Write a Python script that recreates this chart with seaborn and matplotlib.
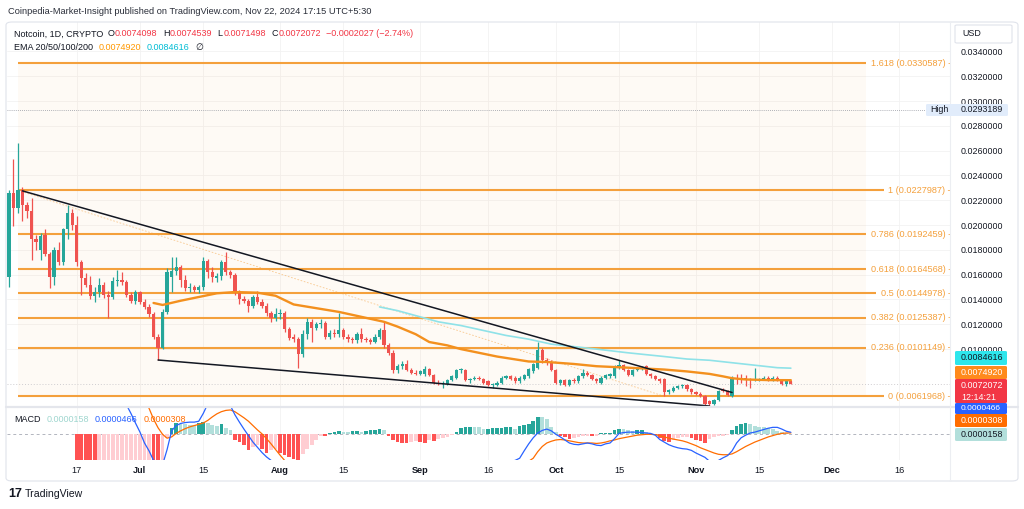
import numpy as np
import pandas as pd
import matplotlib
matplotlib.use("Agg")
import matplotlib.pyplot as plt
import seaborn as sns
from matplotlib.patches import FancyBboxPatch
from matplotlib.lines import Line2D

# ---------------- data (daily candles from 2024-06-02) ----------------
start_date = pd.Timestamp("2024-06-02")
opens = [0.0158,0.0226,0.0214,0.0228,0.0216,0.0211,0.0189,0.0180,0.0192,0.0177,
         0.0158,0.0180,0.0170,0.0197,0.0210,0.0200,0.0170,0.0157,0.0152,0.0143,
         0.0146,0.0152,0.0144,0.0142,0.0155,0.0156,0.0154,0.0144,0.0139,0.0146,
         0.0138,0.0134,0.0128,0.0110,0.0101,0.0130,0.0158,0.0163,0.0166,0.0156,
         0.0149,0.0150,0.0148,0.0150,0.0171,0.0162,0.0157,0.0159,0.0170,0.0162,
         0.0160,0.0146,0.0140,0.0139,0.0135,0.0142,0.0138,0.0135,0.0129,0.0125,
         0.0128,0.0129,0.0116,0.0110,0.0108,0.0096,0.0112,0.0122,0.0117,0.0120,
         0.0121,0.0110,0.0113,0.0112,0.0115,0.0110,0.0108,0.0107,0.0112,0.0108,
         0.0107,0.0106,0.0110,0.0115,0.0103,0.0097,0.0083,0.0086,0.0088,0.0083,
         0.0081,0.0080,0.0080,0.0084,0.0079,0.0073,0.0072,0.0072,0.0075,0.0077,
         0.0083,0.0083,0.0075,0.0076,0.0077,0.0076,0.0074,0.0071,0.0071,0.0073,
         0.0077,0.0078,0.0077,0.0074,0.0076,0.0078,0.0082,0.0085,0.0099,0.0091,
         0.0089,0.0083,0.0073,0.0075,0.0071,0.0075,0.0074,0.0078,0.0081,0.0079,
         0.0076,0.0073,0.0077,0.0078,0.0078,0.0085,0.0087,0.0083,0.0079,0.0083,
         0.0084,0.0086,0.0080,0.0078,0.0076,0.0076,0.0065,0.0066,0.0069,0.0070,
         0.0071,0.0068,0.0065,0.0064,0.0062,0.0058,0.0056,0.0059,0.0067,0.0066,
         0.0062,0.0077,0.0077,0.0077,0.0076,0.0075,0.0075,0.0076,0.0077,0.0075,
         0.0077,0.0075,0.0072,0.0074098]
highs = [0.0228,0.0253,0.0266,0.0231,0.0219,0.0222,0.0192,0.0194,0.0197,0.0178,
         0.0182,0.0186,0.0198,0.0216,0.0213,0.0207,0.0172,0.0161,0.0159,0.0150,
         0.0157,0.0154,0.0147,0.0158,0.0164,0.0162,0.0156,0.0146,0.0148,0.0147,
         0.0140,0.0136,0.0130,0.0112,0.0132,0.0165,0.0174,0.0174,0.0168,0.0160,
         0.0153,0.0152,0.0152,0.0174,0.0173,0.0166,0.0161,0.0172,0.0178,0.0164,
         0.0161,0.0148,0.0143,0.0140,0.0144,0.0147,0.0140,0.0137,0.0131,0.0133,
         0.0132,0.0131,0.0118,0.0112,0.0110,0.0115,0.0125,0.0124,0.0122,0.0124,
         0.0123,0.0115,0.0116,0.0129,0.0117,0.0112,0.0110,0.0114,0.0117,0.0110,
         0.0109,0.0112,0.0117,0.0122,0.0105,0.0099,0.0088,0.0090,0.0091,0.0085,
         0.0083,0.0083,0.0086,0.0085,0.0080,0.0075,0.0074,0.0076,0.0079,0.0084,
         0.0085,0.0084,0.0077,0.0078,0.0078,0.0077,0.0075,0.0073,0.0074,0.0078,
         0.0079,0.0079,0.0078,0.0078,0.0080,0.0085,0.0089,0.0106,0.0101,0.0093,
         0.0091,0.0084,0.0076,0.0076,0.0076,0.0077,0.0079,0.0084,0.0082,0.0080,
         0.0077,0.0078,0.0080,0.0081,0.0087,0.0091,0.0088,0.0084,0.0084,0.0085,
         0.0086,0.0087,0.0081,0.0079,0.0077,0.0077,0.0068,0.0070,0.0071,0.0072,
         0.0072,0.0069,0.0066,0.0065,0.0063,0.0059,0.0060,0.0067,0.0069,0.0067,
         0.0078,0.0080,0.0080,0.0079,0.0077,0.0085,0.0077,0.0078,0.0078,0.0078,
         0.0078,0.0076,0.0075,0.0074539]
lows = [0.0150,0.0199,0.0210,0.0203,0.0206,0.0172,0.0180,0.0172,0.0175,0.0149,
        0.0152,0.0168,0.0168,0.0189,0.0196,0.0167,0.0144,0.0150,0.0140,0.0138,
        0.0142,0.0141,0.0125,0.0140,0.0151,0.0152,0.0142,0.0137,0.0136,0.0136,
        0.0132,0.0126,0.0108,0.0091,0.0100,0.0128,0.0146,0.0160,0.0150,0.0147,
        0.0146,0.0146,0.0145,0.0148,0.0157,0.0154,0.0154,0.0156,0.0160,0.0157,
        0.0144,0.0136,0.0137,0.0130,0.0133,0.0136,0.0133,0.0127,0.0122,0.0123,
        0.0124,0.0114,0.0107,0.0106,0.0085,0.0094,0.0108,0.0106,0.0115,0.0117,
        0.0108,0.0108,0.0110,0.0110,0.0108,0.0106,0.0105,0.0105,0.0106,0.0106,
        0.0104,0.0105,0.0108,0.0101,0.0095,0.0081,0.0081,0.0084,0.0082,0.0080,
        0.0079,0.0079,0.0078,0.0078,0.0072,0.0071,0.0069,0.0071,0.0074,0.0076,
        0.0081,0.0074,0.0073,0.0075,0.0075,0.0072,0.0070,0.0069,0.0070,0.0072,
        0.0076,0.0075,0.0073,0.0073,0.0075,0.0077,0.0081,0.0084,0.0089,0.0087,
        0.0082,0.0072,0.0071,0.0070,0.0070,0.0073,0.0073,0.0077,0.0078,0.0075,
        0.0073,0.0072,0.0076,0.0077,0.0077,0.0084,0.0082,0.0078,0.0078,0.0082,
        0.0083,0.0079,0.0077,0.0075,0.0073,0.0062,0.0064,0.0065,0.0068,0.0069,
        0.0066,0.0064,0.0063,0.0061,0.0055,0.0054,0.0055,0.0058,0.0065,0.0062,
        0.0061,0.0072,0.0073,0.0070,0.0069,0.0074,0.0074,0.0075,0.0074,0.0074,
        0.0074,0.0071,0.0070,0.0071498]
closes = [0.0226,0.0214,0.0228,0.0216,0.0211,0.0189,0.0186,0.0191,0.0177,0.0158,
          0.0180,0.0170,0.0197,0.0210,0.0200,0.0170,0.0157,0.0152,0.0143,0.0146,
          0.0152,0.0144,0.0142,0.0155,0.0156,0.0154,0.0144,0.0139,0.0146,0.0138,
          0.0134,0.0128,0.0110,0.0101,0.0130,0.0162,0.0163,0.0166,0.0156,0.0149,
          0.0150,0.0148,0.0150,0.0171,0.0162,0.0158,0.0159,0.0170,0.0162,0.0160,
          0.0146,0.0140,0.0139,0.0135,0.0142,0.0138,0.0135,0.0129,0.0125,0.0128,
          0.0129,0.0116,0.0109,0.0108,0.0096,0.0112,0.0122,0.0117,0.0120,0.0121,
          0.0110,0.0113,0.0112,0.0115,0.0110,0.0108,0.0107,0.0112,0.0108,0.0107,
          0.0106,0.0110,0.0115,0.0103,0.0097,0.0083,0.0086,0.0088,0.0083,0.0081,
          0.0080,0.0082,0.0084,0.0079,0.0073,0.0072,0.0073,0.0075,0.0078,0.0083,
          0.0084,0.0075,0.0076,0.0077,0.0076,0.0073,0.0071,0.0072,0.0073,0.0077,
          0.0078,0.0076,0.0074,0.0077,0.0079,0.0084,0.0088,0.0099,0.0091,0.0089,
          0.0083,0.0073,0.0075,0.0071,0.0075,0.0074,0.0078,0.0081,0.0079,0.0076,
          0.0074,0.0077,0.0079,0.0080,0.0085,0.0087,0.0083,0.0079,0.0083,0.0084,
          0.0085,0.0080,0.0078,0.0076,0.0074,0.0065,0.0067,0.0069,0.0070,0.0071,
          0.0068,0.0065,0.0064,0.0062,0.0056,0.0056,0.0059,0.0066,0.0066,0.0063,
          0.0077,0.0076,0.0075,0.0076,0.0075,0.0076,0.0076,0.0077,0.0075,0.0077,
          0.0075,0.0072,0.0074,0.0072072]

# EMA 50 (orange) and EMA 100 (cyan)
ema50_day = [32,34,38,42,46,50,55,59,63,68,73,78,83,86,90,93,97,100,104,108,
             115,119,125,130,137,145,150,155,158,160,163,168,173]
ema50_val = [0.01372,0.01356,0.0139,0.0142,0.0145,0.0146,0.01455,0.0143,0.0136,0.0133,
             0.0130,0.0126,0.0122,0.01181,0.0112,0.01057,0.0103,0.0100,0.0097,0.0094,
             0.0090,0.00896,0.0088,0.00862,0.0085,0.00835,0.0082,0.0080,0.0078,0.00765,
             0.00755,0.0075,0.007492]
ema100_day = [82,86,90,95,100,105,110,115,120,125,130,137,145,150,155,160,165,170,173]
ema100_val = [0.0134,0.0131,0.0127,0.0122,0.0119,0.0115,0.0111,0.0108,0.0104,0.0102,
              0.0100,0.0097,0.0094,0.0092,0.0091,0.0089,0.0087,0.0085,0.0084616]

# Fibonacci retracement
fib_ratio = ["1.618", "1", "0.786", "0.618", "0.5", "0.382", "0.236", "0"]
fib_price = [0.0330587, 0.0227987, 0.0192459, 0.0164568, 0.0144978, 0.0125387, 0.0101149, 0.0061968]
fib_anchor_day = [2, 145]

# trend lines (day, price)
upper_line_day = [3, 160]
upper_line_price = [0.02276, 0.00650]
lower_line_day = [33, 155]
lower_line_price = [0.00912, 0.00541]

high_price = 0.0293189
last_close = 0.0072072

# MACD (values in units of 1e-5)
hist_day = list(range(15, 174))
macd_hist = [-75,-90,-102,-112,-118,
             -116,-113,-110,-106,-102,-98,-94,-90,-86,-82,-78,-74,
             -80,-88,-70,-8,
             14,25,24,23,22,21,26,29,26,22,20,23,15,9,
             -14,-18,-25,-35,-29,-25,-33,-43,-37,-33,-44,-48,-52,-56,-62,-46,-34,-25,-14,-4,-5,
             4,5,8,6,5,7,8,6,7,9,10,13,9,
             -4,-12,-18,-20,-21,-18,-15,-17,-20,-14,-16,-10,-8,-6,-2,
             5,15,17,17.5,17,16,12,12,14,15,15.5,16,16.5,13,18.4,21,23,30.7,40,39,36,17,5,
             -4.6,-6,-10,-8,-6,-3,-3,-4,-4,
             2,3,3.5,9,13,12,10,7,9,10,5,1,
             -2,-8,-15,-17,-12,-9,-7,-6,-9,-13,-16,-20,-11,-6,-4,-3,-1,
             9,18,24,25,23,20,17,16,14,12,8,5,3,1.58]
macd_day = [15,20,24,26,27,28,29,30,31,32,33,34,35,36,37,38,39,40,41,42,43,44,45,46,47,48,49,
            50,51,52,53,54,55,56,57,58,59,60,62,65,70,80,90,100,110] + list(range(112, 174))
macd_line = [180,140,100,68,48,26,5,-20,-38,-60,-85,-70,-35,8,20,25,27,28,28,30,48,70,85,90,88,78,66,
             45,28,12,-3,-18,-30,-42,-52,-60,-75,-90,-110,-140,-140,-120,-105,-85,-65,
             -60,-55,-38,-22,-8,3,9,12,8,0,-6,-13,-20,-23,-24,-22,-20,-22,-25,-26,-22,-20,-10,2,
             4,5,5,5,4,3,2,-2,-12,-18,-24,-28,-31,-33,-34,-37,-43,-48,-53,-62,-66,-60,-54,-49,
             -38,-20,-8,-2,3,5,8,11,14,16,16,12,7,4.66]
signal_day = [15,20,25,29,30] + list(range(31, 62)) + [63,66,70,80,90,100,110,113] + list(range(115, 174))
signal_line = [190,160,120,85,72,
               60,35,15,0,-9,-6,2,8,13,17,20,23,26,32,40,47,52,55,56,52,45,38,30,20,10,1,-10,-22,-35,-48,-60,
               -80,-100,-120,-125,-110,-95,-75,-68,
               -62,-55,-40,-28,-20,-16,-13,-12,-13,-15,-17,-19,-20,-20,-20,-21,-20,-18,-15,-13,-10,-8,-6,
               -4,-2,-1,0,0,-1,-3,-6,-9,-11,-13,-15,-18,-22,-26,-31,-35,-39,-43,-46,-47,-47,-45,-40,
               -34,-28,-23,-18,-14,-10,-6,-3,0,2,3,3.08]

price_ticks = [0.034, 0.032, 0.030, 0.028, 0.026, 0.024, 0.022, 0.020, 0.018, 0.016, 0.014, 0.012, 0.010]
tick_dates = ["2024-06-17","2024-07-01","2024-07-15","2024-08-01","2024-08-15","2024-09-01",
              "2024-09-16","2024-10-01","2024-10-15","2024-11-01","2024-11-15","2024-12-01","2024-12-16"]
tick_labels = ["17","Jul","15","Aug","15","Sep","16","Oct","15","Nov","15","Dec","16"]

# ---------------- style ----------------
sns.set_theme(style="white")
plt.rcParams['font.family'] = ['Liberation Sans', 'DejaVu Sans']

GREEN, RED = '#26a69a', '#ef5350'
FIB = '#f4a03c'
DARK = '#131722'

W, H = 1024, 509
fig = plt.figure(figsize=(W / 100, H / 100), dpi=100, facecolor='white')

def fx(x):
    return x / W

def fy(y):
    return 1 - y / H

LEFT, RIGHT = 7, 950
ax = fig.add_axes([fx(LEFT), fy(406), (RIGHT - LEFT) / W, (406 - 22) / H])
axm = fig.add_axes([fx(LEFT), fy(460), (RIGHT - LEFT) / W, (460 - 407) / H])
X0 = (LEFT - 8.9) / 4.52
X1 = (RIGHT - 8.9) / 4.52
for a in (ax, axm):
    a.set_facecolor('white')
    for s in a.spines.values():
        s.set_visible(False)

days = np.arange(len(closes))
tick_pos = [(pd.Timestamp(d) - start_date).days for d in tick_dates]

# grid
ax.set_xticks(tick_pos)
ax.set_yticks(price_ticks)
ax.grid(True, color='#f3f2f2', lw=0.6)
ax.tick_params(axis='x', labelbottom=False, length=0)
ax.yaxis.tick_right()
ax.set_yticklabels([f"{v:.7f}" for v in price_ticks])
ax.tick_params(axis='y', length=0, pad=7.8, labelsize=6.4, labelcolor=DARK)
ax.set_xlim(X0, X1)
ax.set_ylim(0.005411, 0.036379)

# fib labels & lines
fig.canvas.draw()
lab_x = (951 - 8.9) / 4.52
fib_texts = []
for r, p in zip(fib_ratio, fib_price):
    t = ax.text(lab_x, p, f"{r} ({p:.7f}) -", ha='right', va='center', color=FIB,
                fontsize=6.6, clip_on=False, zorder=7)
    fib_texts.append(t)
fig.canvas.draw()
inv = ax.transData.inverted()
fib_end = []
for t in fib_texts:
    bb = t.get_window_extent()
    fib_end.append(inv.transform((bb.x0 - 5, 0))[0])
for k, (p, e) in enumerate(zip(fib_price, fib_end)):
    ax.hlines(p, fib_anchor_day[0], e, color=FIB, lw=1.5, zorder=2)
    if k < len(fib_price) - 1:
        e2 = min(e, fib_end[k + 1])
        ax.fill_between([fib_anchor_day[0], e2], fib_price[k + 1], p, color=FIB, alpha=0.05, lw=0, zorder=1)
ax.plot(fib_anchor_day, [fib_price[1], fib_price[-1]], color=FIB, lw=0.6, alpha=0.55,
        ls=(0, (2, 2)), zorder=2)

# high line and last price line
ax.hlines(high_price, X0, (926 - 8.9) / 4.52, color='#9598a1', lw=0.6, ls=(0, (1, 1.5)), zorder=2)
ax.axhline(last_close, color='#cfcdd0', lw=0.7, ls=(0, (1, 2)), zorder=2)

# candles
colors = [GREEN if c >= o else RED for o, c in zip(opens, closes)]
ax.vlines(days, lows, highs, colors=colors, lw=0.9, zorder=3)
body_h = [max(abs(c - o), 0.00008) for o, c in zip(opens, closes)]
ax.bar(days, body_h, bottom=np.minimum(opens, closes), width=0.72, color=colors, lw=0, zorder=4)

# EMAs
sns.lineplot(x=ema100_day, y=ema100_val, ax=ax, color='#8fe2e8', lw=1.2, legend=False, zorder=5)
sns.lineplot(x=ema50_day, y=ema50_val, ax=ax, color='#f3901e', lw=1.7, legend=False, zorder=5)

# trend lines
ax.plot(upper_line_day, upper_line_price, color=DARK, lw=1.1, zorder=6)
ax.plot(lower_line_day, lower_line_price, color=DARK, lw=1.1, zorder=6)

ax.set_xlim(X0, X1)
ax.set_ylim(0.005411, 0.036379)
ax.set_xlabel('')
ax.set_ylabel('')

# MACD pane
prev = 0
hcols = []
for h in macd_hist:
    if h >= 0:
        hcols.append('#26a69a' if h >= prev else '#b2dfdb')
    else:
        hcols.append('#ff5252' if h < prev else '#ffcdd2')
    prev = h
axm.bar(hist_day, macd_hist, width=0.8, color=hcols, lw=0, zorder=2)
axm.axhline(0, color='#b2b5be', lw=0.7, ls=(0, (3, 3)), zorder=1)
sns.lineplot(x=macd_day, y=macd_line, ax=axm, color='#2962ff', lw=0.9, legend=False, zorder=4)
sns.lineplot(x=signal_day, y=signal_line, ax=axm, color='#ff6d00', lw=0.9, legend=False, zorder=3)
axm.set_xlim(X0, X1)
axm.set_ylim(-59.1, 62.8)
axm.set_yticks([])
axm.set_xticks(tick_pos)
axm.set_xticklabels(tick_labels)
axm.tick_params(axis='x', length=0, pad=4.3, labelsize=6.6, labelcolor=DARK)
for lbl in axm.get_xticklabels():
    if not lbl.get_text().isdigit():
        lbl.set_fontweight('bold')
axm.grid(True, axis='x', color='#f3f2f2', lw=0.6)
axm.set_xlabel('')
axm.set_ylabel('')

# frame lines
def fline(x0, y0, x1, y1, c='#e0e3eb', lw=0.8):
    fig.add_artist(Line2D([fx(x0), fx(x1)], [fy(y0), fy(y1)], transform=fig.transFigure,
                          color=c, lw=lw, zorder=8))

fig.add_artist(FancyBboxPatch((fx(6), fy(481)), (1018 - 6) / W, (481 - 22) / H,
                              boxstyle="round,pad=0,rounding_size=0.006", transform=fig.transFigure,
                              fc='none', ec='#e0e3eb', lw=0.8, zorder=8))
fline(6, 406.5, 1018, 406.5, '#e4e6ec', 1.6)
fline(950, 22, 950, 481, '#eceef2', 0.8)

# header & legends
def ftext(x, y, s, color=DARK, size=6.5, weight='normal', ha='left', z=12):
    return fig.text(fx(x), fy(y), s, color=color, fontsize=size, fontweight=weight,
                    ha=ha, va='center', zorder=z)

renderer = fig.canvas.get_renderer()

def seq_text(x, y, pieces, size=6.5):
    for s, c, gap in pieces:
        t = ftext(x, y, s, c, size)
        bb = t.get_window_extent(renderer)
        x = bb.x1 + gap

ftext(8, 11, "Coinpedia-Market-Insight published on TradingView.com, Nov 22, 2024 17:15 UTC+5:30",
      color='#2a2e39', size=6.7)
REDT = '#f23645'
seq_text(14, 34, [("Notcoin, 1D, CRYPTO", DARK, 4), ("O", DARK, 0.5), ("0.0074098", REDT, 6),
                  ("H", DARK, 0.5), ("0.0074539", REDT, 5), ("L", DARK, 0.5), ("0.0071498", REDT, 6),
                  ("C", DARK, 0.5), ("0.0072072", REDT, 5), ("\u22120.0002027 (\u22122.74%)", REDT, 0)])
seq_text(14, 47, [("EMA 20/50/100/200", DARK, 6), ("0.0074920", '#ff9800', 5),
                  ("0.0084616", '#00bcd4', 6), ("\u2205", DARK, 0)])
seq_text(14, 420, [("MACD", DARK, 6), ("0.0000158", '#9fd6cf', 6), ("0.0000466", '#2962ff', 6),
                   ("0.0000308", '#ff6d00', 0)])

# right-hand boxes (each box above the previous one)
zcount = [20]

def rbox(x0, x1, yc, h, bg, lines, fg, ec='none', size=6.4):
    z = zcount[0]
    zcount[0] += 2
    fig.add_artist(FancyBboxPatch((fx(x0), fy(yc + h / 2)), (x1 - x0) / W, h / H,
                                  boxstyle="round,pad=0,rounding_size=0.002", transform=fig.transFigure,
                                  fc=bg, ec=ec, lw=0.8, zorder=z))
    for (tx, ty, s) in lines:
        fig.text(fx(tx), fy(ty), s, color=fg, fontsize=size, ha='left', va='center', zorder=z + 1)

rbox(955, 1012, 34, 18, 'white', [(962, 34, "USD")], DARK, ec='#e0e3eb')
rbox(926, 1008, 110, 12, '#e1ecfb', [(930, 110, "High"), (961, 110, "0.0293189")], DARK)
rbox(955, 1007, 358, 14, '#2ee6ec', [(961, 358, "0.0084616")], DARK)
rbox(955, 1007, 372.5, 13, '#ff8a1c', [(961, 372.5, "0.0074920")], 'white')
rbox(955, 1007, 391, 24, '#f23645', [(961, 385, "0.0072072"), (961, 397, "12:14:21")], 'white')
rbox(955, 1007, 408.5, 11, '#2962ff', [(961, 408.5, "0.0000466")], 'white', size=6.0)
rbox(955, 1007, 420.5, 13, '#ff6d00', [(961, 420.5, "0.0000308")], 'white')
rbox(955, 1007, 434.5, 13, '#b2dfdb', [(961, 434.5, "0.0000158")], DARK)

# footer logo
ftext(8, 494, "17", color=DARK, size=9, weight='bold')
ftext(25, 494, "TradingView", color=DARK, size=7.6)

fig.savefig("out.png", dpi=100, facecolor='white')
